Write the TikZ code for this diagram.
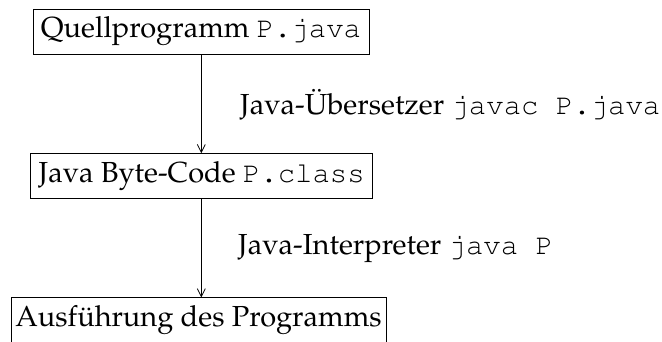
\documentclass[tikz,border=0pt]{standalone}
\usepackage[T1]{fontenc}
\usepackage{mathpazo}
\usepackage{courier}
\usetikzlibrary{arrows.meta}
\begin{document}
\begin{tikzpicture}[x=1pt,y=1pt,
  box/.style={draw, line width=0.8pt, inner sep=0pt, font=\fontsize{29}{34}\selectfont},
  lbl/.style={inner sep=0pt, anchor=base west, font=\fontsize{29}{34}\selectfont},
  flow/.style={draw, line width=0.8pt, -{Straight Barb[length=8pt,width=8pt]}}]
\useasboundingbox (0,0) rectangle (662,-341);
\node[box, minimum width=336, minimum height=45] (src) at (201,-31.5) {Quellprogramm \texttt{P.java}};
\node[box, minimum width=342, minimum height=45] (bc) at (201.7,-176) {Java Byte-Code \texttt{P.class}};
\node[box, minimum width=375, minimum height=45] (run) at (198.5,-320) {Ausführung des Programms};
\coordinate (a1) at (201.3,-54);
\coordinate (b1) at (201.3,-153.3);
\coordinate (a2) at (201.3,-198.5);
\coordinate (b2) at (201.3,-297.5);
\draw[flow] (a1) -- (b1);
\draw[flow] (a2) -- (b2);
\node[lbl] (l1) at (240,-114.3) {Java-Übersetzer \texttt{javac P.java}};
\node[lbl] (l2) at (238,-254) {Java-Interpreter \texttt{java P}};
\end{tikzpicture}
\end{document}
